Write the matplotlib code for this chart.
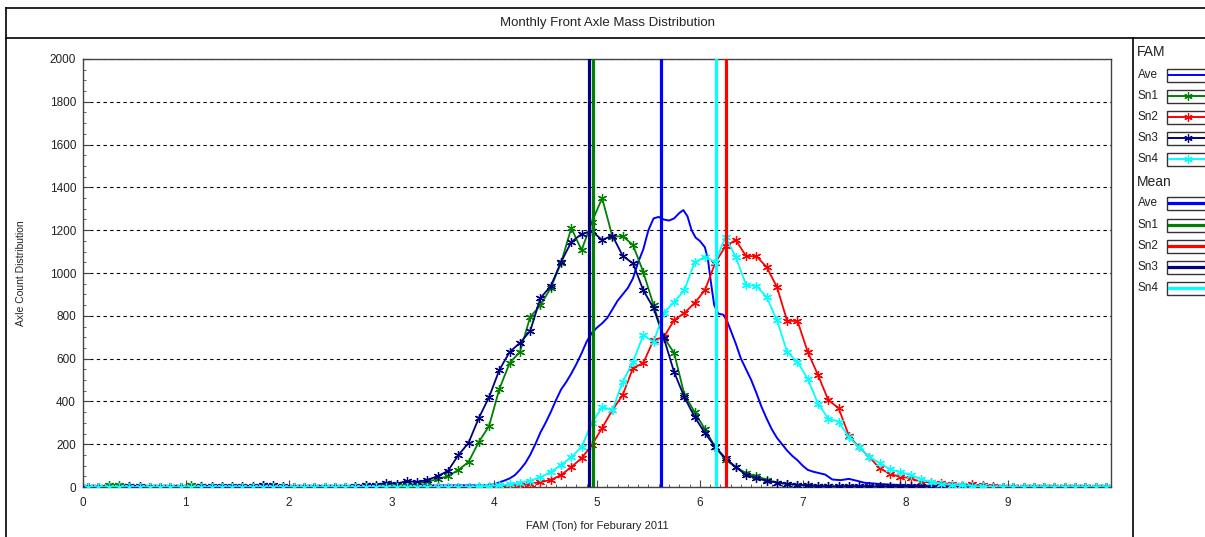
import numpy as np
import matplotlib
matplotlib.use('Agg')
import matplotlib.pyplot as plt
from matplotlib.patches import Rectangle
from matplotlib.ticker import MultipleLocator

plt.rcParams['font.family'] = ['Liberation Sans', 'DejaVu Sans']

# bin centres (ton) for the per-sensor histograms
bins = np.round(np.arange(100) * 0.1 + 0.05, 2)

sn1 = [0, 0, 8, 10, 5, 0, 0, 0, 0, 0,
       8, 5, 0, 0, 0, 0, 0, 8, 0, 0,
       0, 0, 0, 0, 0, 0, 0, 8, 5, 5,
       8, 10, 15, 25, 37, 51, 79, 117, 210, 285,
       458, 579, 631, 794, 850, 930, 1047, 1210, 1107, 1238,
       1350, 1170, 1172, 1131, 1005, 850, 700, 626, 432, 350,
       270, 187, 127, 93, 65, 50, 35, 20, 15, 10,
       5, 3, 3, 0, 0, 0, 0, 0, 0, 0,
       0, 0, 0, 0, 0, 0, 0, 0, 0, 0,
       0, 0, 0, 0, 0, 0, 0, 0, 0, 0]
sn2 = [0, 0, 0, 0, 0, 0, 0, 0, 0, 0,
       0, 0, 0, 0, 0, 0, 0, 0, 0, 0,
       0, 0, 0, 0, 0, 0, 0, 0, 0, 0,
       0, 0, 0, 0, 0, 0, 0, 0, 0, 0,
       3, 5, 8, 14, 23, 33, 56, 93, 135, 196,
       276, 360, 430, 556, 579, 687, 700, 780, 813, 860,
       920, 1047, 1126, 1154, 1079, 1079, 1028, 935, 776, 776,
       631, 523, 406, 369, 240, 185, 140, 87, 62, 47,
       42, 23, 23, 18, 14, 10, 12, 8, 3, 0,
       0, 0, 0, 0, 0, 0, 0, 0, 0, 0]
sn3 = [0, 0, 0, 0, 5, 5, 0, 0, 0, 0,
       0, 5, 3, 5, 5, 5, 5, 8, 8, 3,
       0, 0, 0, 0, 0, 0, 5, 8, 10, 20,
       15, 28, 23, 33, 51, 75, 148, 206, 322, 420,
       547, 631, 673, 729, 883, 939, 1051, 1145, 1182, 1196,
       1154, 1175, 1080, 1045, 920, 836, 696, 537, 420, 327,
       252, 187, 135, 93, 56, 42, 28, 21, 15, 10,
       8, 5, 3, 3, 3, 3, 3, 3, 3, 3,
       3, 3, 3, 3, 3, 3, 3, 3, 0, 0,
       0, 0, 0, 0, 0, 0, 0, 0, 0, 0]
sn4 = [0, 0, 0, 0, 0, 0, 0, 0, 0, 0,
       0, 0, 0, 0, 0, 0, 0, 0, 0, 0,
       0, 0, 0, 0, 0, 0, 0, 0, 0, 0,
       0, 0, 0, 0, 0, 0, 0, 0, 3, 5,
       8, 12, 20, 30, 45, 70, 103, 140, 187, 299,
       374, 360, 491, 584, 710, 678, 813, 864, 920, 1051,
       1075, 1051, 1168, 1075, 944, 939, 888, 780, 631, 584,
       505, 390, 320, 306, 232, 185, 140, 112, 82, 70,
       56, 37, 23, 14, 10, 8, 5, 3, 0, 0,
       0, 0, 0, 0, 0, 0, 0, 0, 0, 0]

# average curve (finer resolution, no markers)
ave_x = [0.0, 1.0, 2.0, 3.0, 3.9, 4.0, 4.05, 4.1, 4.15, 4.2, 4.25, 4.3, 4.35, 4.4,
         4.45, 4.5, 4.55, 4.6, 4.65, 4.7, 4.75, 4.8, 4.85, 4.9, 4.95, 5.0,
         5.05, 5.1, 5.15, 5.2, 5.25, 5.3, 5.35, 5.4, 5.45, 5.5, 5.55, 5.6,
         5.65, 5.7, 5.75, 5.8, 5.84, 5.88, 5.92, 5.96, 6.0, 6.05, 6.08, 6.11,
         6.14, 6.18, 6.23, 6.27, 6.31, 6.35, 6.4, 6.45, 6.5, 6.55, 6.6, 6.65,
         6.7, 6.75, 6.8, 6.85, 6.9, 6.95, 7.0, 7.05, 7.1, 7.16, 7.22, 7.29,
         7.37, 7.45, 7.52, 7.6, 7.75, 7.94, 8.2, 8.5, 9.0, 9.95]
ave_y = [5, 5, 5, 5, 8, 12, 22, 30, 40, 55, 80, 110, 150, 200,
         255, 300, 350, 405, 455, 490, 530, 575, 625, 680, 720, 745,
         765, 790, 830, 870, 900, 930, 975, 1050, 1110, 1200, 1255, 1262,
         1250, 1245, 1255, 1280, 1294, 1265, 1200, 1165, 1150, 1120, 1060, 950,
         850, 810, 805, 770, 720, 670, 600, 550, 500, 440, 375, 320,
         270, 230, 200, 170, 145, 125, 100, 80, 72, 65, 58, 35,
         32, 38, 30, 20, 14, 9, 5, 3, 0, 0]

series_names = ['Ave', 'Sn1', 'Sn2', 'Sn3', 'Sn4']
series_colors = ['#0000ff', '#008000', '#ff0000', '#000080', '#00ffff']
mean_values = [5.625, 4.965, 6.25, 4.92, 6.16]

fig = plt.figure(figsize=(12.05, 5.37), dpi=100)
ax = fig.add_axes([83 / 1205, 50 / 537, (1111 - 83) / 1205, (487 - 59) / 537])

star = (6, 2, 0)
ax.plot(ave_x, ave_y, color=series_colors[0], lw=1.4, zorder=3)
for vals, col in zip([sn1, sn2, sn3, sn4], series_colors[1:]):
    ax.plot(bins, vals, color=col, lw=1.3, marker=star, ms=6.5, mew=0.9, zorder=3)

for m, col in zip(mean_values, series_colors):
    ax.axvline(m, color=col, lw=2.3, zorder=4)

ax.set_xlim(0, 10)
ax.set_ylim(0, 2000)
ax.set_xticks(range(10))
ax.xaxis.set_minor_locator(MultipleLocator(0.1))
ax.yaxis.set_major_locator(MultipleLocator(200))
ax.yaxis.set_minor_locator(MultipleLocator(50))
ax.tick_params(which='both', direction='in', colors='#444444', labelcolor='#222222', labelsize=8.5)
ax.tick_params(which='major', length=5)
ax.tick_params(which='minor', length=2.5)
ax.tick_params(axis='x', pad=7)
ax.tick_params(axis='y', pad=5)
ax.grid(axis='y', color='black', ls=(0, (3, 3)), lw=0.8)
for sp in ax.spines.values():
    sp.set_color('#444444')
    sp.set_linewidth(1)

ax.set_xlabel('FAM (Ton) for Feburary 2011', fontsize=8, color='#222222', labelpad=9)
ax.set_ylabel('Axle Count Distribution', fontsize=7.5, color='#222222', labelpad=17)

# frame, title and legend panel drawn in pixel coordinates
ov = fig.add_axes([0, 0, 1, 1], zorder=-1)
ov.set_xlim(0, 1205)
ov.set_ylim(537, 0)
ov.set_axis_off()
ov.plot([6, 1205], [8, 8], color='black', lw=1.2)
ov.plot([6, 1205], [38, 38], color='black', lw=1.2)
ov.plot([6, 6], [8, 537], color='black', lw=1.2)
ov.plot([1133, 1133], [38, 537], color='black', lw=1.2)
ov.text(608, 23, 'Monthly Front Axle Mass Distribution', ha='center', va='center',
        fontsize=9.5, color='#222222')

ov.text(1137, 52, 'FAM', ha='left', va='center', fontsize=10, color='#222222')
ov.text(1137, 182, 'Mean', ha='left', va='center', fontsize=10, color='#222222')
fam_rows = [75, 96, 117, 138, 159]
mean_rows = [203, 225, 246, 267, 288]
for i, (name, col) in enumerate(zip(series_names, series_colors)):
    for row, is_mean in [(fam_rows[i], False), (mean_rows[i], True)]:
        ov.text(1138, row, name, ha='left', va='center', fontsize=8.5, color='#222222')
        ov.add_patch(Rectangle((1167, row - 6.5), 50, 13, fill=False,
                               edgecolor='#333333', lw=1, clip_on=False))
        ov.plot([1169, 1210], [row, row], color=col, lw=2.3 if is_mean else 1.4)
        if not is_mean and name != 'Ave':
            ov.plot([1188], [row], color=col, marker=star, ms=6, mew=0.9)

fig.savefig('out.png', dpi=100)
